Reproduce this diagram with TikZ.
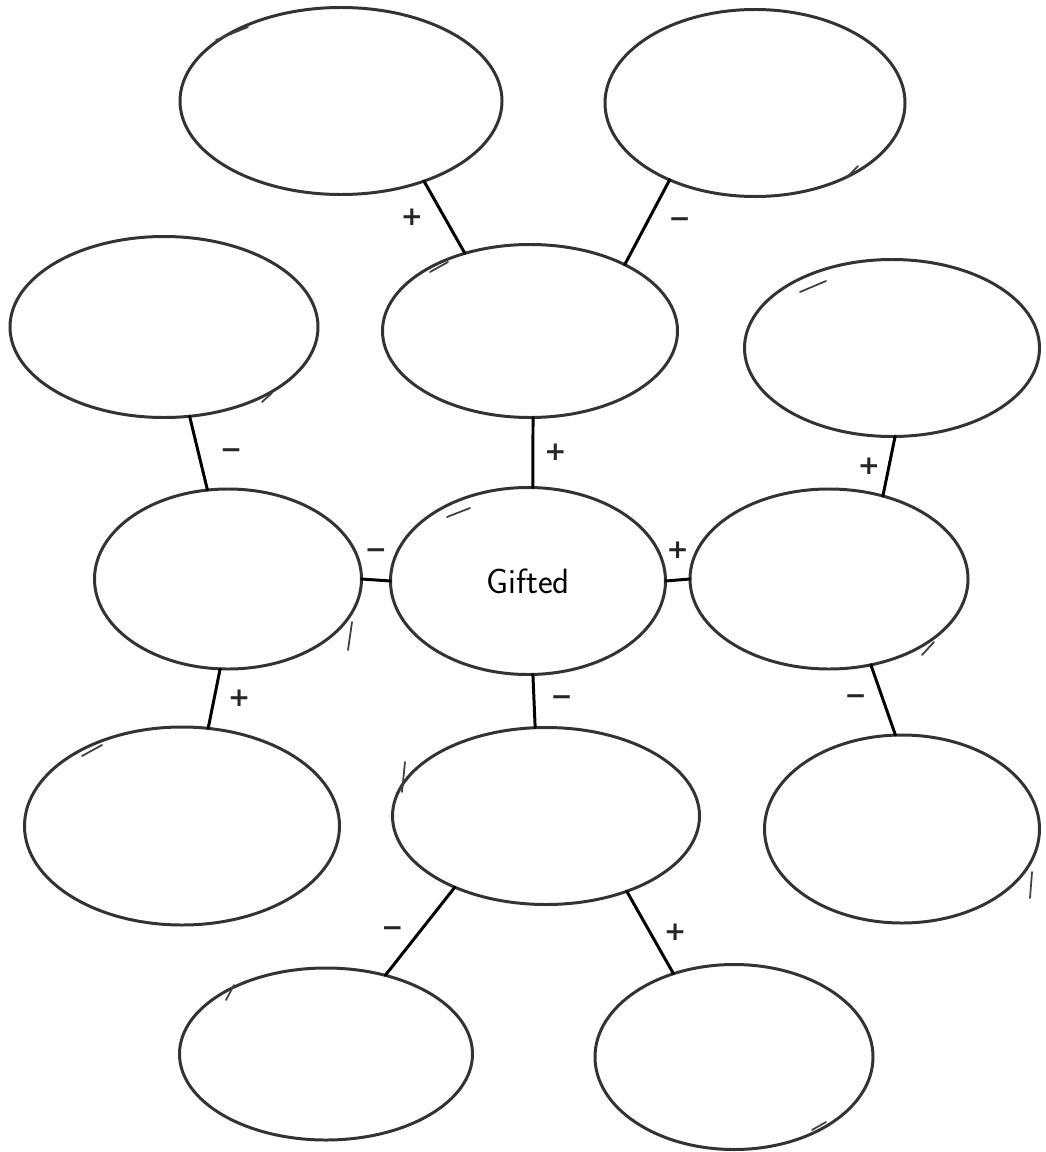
\documentclass[tikz,border=0pt]{standalone}
\usepackage{fontspec}
\usepackage{tikz}
\usetikzlibrary{positioning,shapes.geometric}
\newfontfamily\signfont{DejaVu Sans}

\begin{document}
\begin{tikzpicture}[x=0.02cm, y=-0.02cm, line width=1.7pt, line cap=round,
  bubble/.style 2 args={ellipse, draw=black!80, inner sep=0pt, outer sep=0pt,
    minimum width=#1*0.02cm, minimum height=#2*0.02cm},
  sign/.style={font=\signfont\bfseries\fontsize{15}{16}\selectfont, inner sep=0pt, black!85},
  stroke/.style={line width=1pt, black!75}]
  \useasboundingbox (0,0) rectangle (1045,1152);
  % top row
  \node[bubble={322}{187}] (top1) at (341,101) {};
  \node[bubble={300}{187}] (top2) at (755,103) {};
  % second row
  \node[bubble={308}{181}] (left1) at (164,327) {};
  \node[bubble={295}{173}] (up) at (530,331) {};
  \node[bubble={295}{177}] (right1) at (892,348) {};
  % middle row, the centre bubble
  \node[bubble={267}{180}] (left) at (228,579) {};
  \node[bubble={275}{187}, font=\sffamily\fontsize{20}{22}\selectfont] (gift) at (528,581) {Gifted};
  \node[bubble={278}{180}] (right) at (829,579) {};
  % fourth row
  \node[bubble={315}{198}] (left2) at (182,826) {};
  \node[bubble={307}{177}] (down) at (546,816) {};
  \node[bubble={275}{188}] (right2) at (902,829) {};
  % bottom row
  \node[bubble={293}{172}] (bot1) at (326,1054) {};
  \node[bubble={278}{185}] (bot2) at (734,1057) {};
  % links with their signs
  \draw (top1.-44) -- (up.130) node[sign, midway, left=4mm] {+};
  \draw (top2.222) -- (up.35) node[sign, midway, right=4mm] {−};
  \draw (left1.-74) -- (left.103) node[sign, midway, right=4mm] {−};
  \draw (up.-88) -- (gift.87) node[sign, midway, right=2mm] {+};
  \draw (right1.-88) -- (right.57) node[sign, midway, left=1.5mm] {+};
  \draw (left.east) -- (gift.west) node[sign, midway, above=4mm] {−};
  \draw (gift.east) -- (right.west) node[sign, midway, above=4mm] {+};
  \draw (left.-95) -- (left2.75) node[sign, midway, right=2.5mm] {+};
  \draw (gift.-87) -- (down.97) node[sign, midway, right=3mm] {−};
  \draw (right.-64) -- (right2.94) node[sign, midway, left=3mm] {−};
  \draw (down.218) -- (bot1.53) node[sign, midway, left=3mm] {−};
  \draw (down.-43) -- (bot2.126) node[sign, midway, right=2.5mm] {+};
  % pen overlaps where each bubble was closed
  \draw[stroke] (216,40) -- (248,27);
  \draw[stroke] (846,178) -- (858,166);
  \draw[stroke] (262,402) -- (272,393);
  \draw[stroke] (430,272) -- (448,262);
  \draw[stroke] (800,292) -- (826,281);
  \draw[stroke] (348,650) -- (352,622);
  \draw[stroke] (447,517) -- (470,508);
  \draw[stroke] (922,655) -- (934,642);
  \draw[stroke] (82,756) -- (102,745);
  \draw[stroke] (402,792) -- (405,762);
  \draw[stroke] (1030,898) -- (1032,872);
  \draw[stroke] (226,1000) -- (234,985);
  \draw[stroke] (812,1130) -- (826,1122);
\end{tikzpicture}
\end{document}
